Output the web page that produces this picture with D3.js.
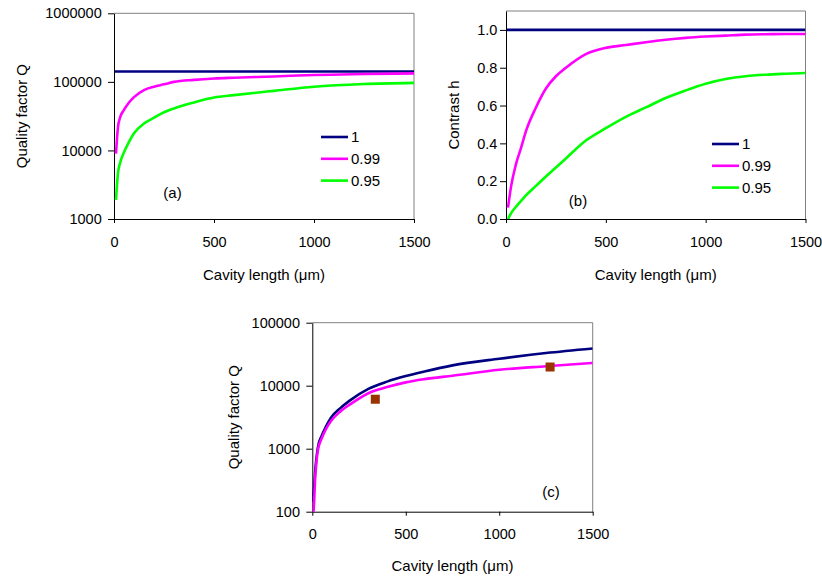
<!DOCTYPE html>
<html><head><meta charset="utf-8">
<script src="https://cdn.jsdelivr.net/npm/d3@7"></script>
<style>
body{margin:0;background:#fff;}
svg text{font-family:"Liberation Sans",Arial,sans-serif;fill:#000;}
</style></head>
<body><svg id="chart" width="822" height="579"></svg>
<script>
// ---------- data ----------
const seriesNames = ["1", "0.99", "0.95"];
const xTicks = [0, 500, 1000, 1500];
const qTicksA = [1000, 10000, 100000, 1000000];
const hTicksB = [0, 0.2, 0.4, 0.6, 0.8, 1.0];
const qTicksC = [100, 1000, 10000, 100000];

// (a) quality factor vs cavity length
const lenA1 = [5, 1500];
const qA1 = [142000, 142000];
const lenA = [10, 20, 30, 50, 75, 100, 150, 200, 250, 300, 400, 500, 600, 800, 1000, 1250, 1500];
const qA099 = [9000, 22000, 30000, 39000, 50000, 60000, 76000, 85000, 92000, 100000, 107000, 112000, 115000, 120000, 126000, 130000, 133000];
const qA095 = [1900, 4700, 6500, 9400, 13300, 17800, 24700, 30000, 36000, 41000, 50000, 59000, 64000, 74000, 85000, 93000, 96700];

// (b) contrast vs cavity length
const lenB1 = [5, 1500];
const hB1 = [1.0, 1.0];
const lenB = [10, 25, 50, 75, 100, 150, 200, 250, 300, 400, 500, 600, 700, 800, 900, 1000, 1100, 1200, 1300, 1400, 1500];
const hB099 = [0.06, 0.17, 0.29, 0.375, 0.465, 0.59, 0.69, 0.755, 0.80, 0.872, 0.905, 0.92, 0.935, 0.948, 0.958, 0.965, 0.97, 0.975, 0.977, 0.978, 0.978];
const hB095 = [0.0, 0.03, 0.065, 0.095, 0.125, 0.175, 0.225, 0.272, 0.32, 0.415, 0.48, 0.54, 0.59, 0.64, 0.68, 0.715, 0.74, 0.755, 0.763, 0.768, 0.772];

// (c) quality factor vs cavity length with measured points
const lenC = [3, 5, 10, 15, 20, 30, 50, 75, 100, 150, 200, 300, 400, 500, 600, 750, 1000, 1250, 1500];
const qCblue = [145, 180, 250, 420, 620, 1050, 1600, 2300, 3100, 4400, 5800, 8900, 11600, 14200, 16800, 21000, 26800, 33000, 39000];
const qCmag = [60, 80, 150, 330, 520, 950, 1450, 2100, 2750, 3900, 5000, 7600, 9500, 11300, 12700, 14400, 17900, 20400, 23000];
const measLen = [337, 1272];
const measQ = [6100, 19800];

// ---------- styles ----------
const C_BLUE = "#000080", C_MAG = "#ff00ff", C_GREEN = "#00ff00", C_MARK = "#993300";
const svg = d3.select("#chart");

function panel(opt) {
  const g = svg.append("g");
  const x = d3.scaleLinear().domain([0, 1500]).range([opt.left, opt.right]);
  const y = (opt.log ? d3.scaleLog() : d3.scaleLinear()).domain(opt.yDomain).range([opt.bottom, opt.top]);
  const clipId = "clip" + opt.id;
  svg.append("clipPath").attr("id", clipId).append("rect")
    .attr("x", opt.left).attr("y", opt.top).attr("width", opt.right - opt.left).attr("height", opt.bottom - opt.top);
  // plot border (gray) top & right
  g.append("path").attr("d", `M${opt.left},${opt.top}H${opt.right}V${opt.bottom}`)
    .attr("fill", "none").attr("stroke", "#808080").attr("stroke-width", 1);
  // axes
  const xa = g.append("g").attr("transform", `translate(0,${opt.bottom})`)
    .call(d3.axisBottom(x).tickValues(xTicks).tickFormat(d3.format("d")).tickSize(4).tickSizeOuter(0).tickPadding(13.5));
  const ya = g.append("g").attr("transform", `translate(${opt.left},0)`)
    .call(d3.axisLeft(y).tickValues(opt.yTicks).tickFormat(opt.yFormat).tickSize(6).tickSizeOuter(0).tickPadding(opt.yPad));
  [xa, ya].forEach(a => {
    a.select(".domain").attr("stroke", "#000");
    a.selectAll(".tick line").attr("stroke", "#000");
    a.selectAll("text").attr("font-size", 14.5).attr("font-family", "Liberation Sans, Arial, sans-serif");
  });
  const line = d3.line().curve(d3.curveMonotoneX).x(d => x(d[0])).y(d => y(d[1]));
  const pg = g.append("g").attr("clip-path", `url(#${clipId})`);
  opt.series.forEach(s => {
    pg.append("path").datum(s.xs.map((v, i) => [v, s.ys[i]]))
      .attr("d", line).attr("fill", "none").attr("stroke", s.color)
      .attr("stroke-width", 2.6).attr("stroke-linejoin", "round");
  });
  if (opt.points) {
    pg.selectAll("rect.m").data(opt.points.xs.map((v, i) => [v, opt.points.ys[i]])).enter()
      .append("rect").attr("x", d => x(d[0]) - 4.5).attr("y", d => y(d[1]) - 4.5)
      .attr("width", 9).attr("height", 9).attr("fill", C_MARK);
  }
  // titles
  g.append("text").attr("x", (opt.left + opt.right) / 2).attr("y", opt.xTitleY)
    .attr("text-anchor", "middle").attr("font-size", 15).text("Cavity length (\u03bcm)");
  g.append("text").attr("transform", `translate(${opt.yTitleX},${(opt.top + opt.bottom) / 2}) rotate(-90)`)
    .attr("text-anchor", "middle").attr("font-size", 15).text(opt.yTitle);
  g.append("text").attr("x", opt.labelX).attr("y", opt.labelY).attr("text-anchor", "middle")
    .attr("font-size", 15).text(opt.label);
  if (opt.legend) {
    const L = opt.legend;
    opt.series.forEach((s, i) => {
      const yy = L.y + i * L.dy;
      g.append("line").attr("x1", L.x).attr("x2", L.x + 27).attr("y1", yy).attr("y2", yy)
        .attr("stroke", s.color).attr("stroke-width", 2.6);
      g.append("text").attr("x", L.x + 30).attr("y", yy).attr("dy", "0.36em")
        .attr("font-size", 15).text(s.name);
    });
  }
}

panel({
  id: "a", left: 114, right: 414, top: 13.3, bottom: 219, log: true,
  yDomain: [1000, 1000000], yTicks: qTicksA, yFormat: d3.format("d"), yPad: 6.3,
  yTitle: "Quality factor Q", yTitleX: 27, xTitleY: 280,
  label: "(a)", labelX: 172.5, labelY: 198,
  legend: {x: 321, y: 137, dy: 21.8},
  series: [
    {name: seriesNames[0], xs: lenA1, ys: qA1, color: C_BLUE},
    {name: seriesNames[1], xs: lenA, ys: qA099, color: C_MAG},
    {name: seriesNames[2], xs: lenA, ys: qA095, color: C_GREEN}
  ]
});

panel({
  id: "b", left: 506, right: 805.5, top: 11, bottom: 219, log: false,
  yDomain: [0, 1.1], yTicks: hTicksB, yFormat: d3.format(".1f"), yPad: 2.7,
  yTitle: "Contrast h", yTitleX: 459, xTitleY: 280,
  label: "(b)", labelX: 578, labelY: 206,
  legend: {x: 712, y: 144, dy: 21.8},
  series: [
    {name: seriesNames[0], xs: lenB1, ys: hB1, color: C_BLUE},
    {name: seriesNames[1], xs: lenB, ys: hB099, color: C_MAG},
    {name: seriesNames[2], xs: lenB, ys: hB095, color: C_GREEN}
  ]
});

panel({
  id: "c", left: 312.3, right: 592.7, top: 322.7, bottom: 511.7, log: true,
  yDomain: [100, 100000], yTicks: qTicksC, yFormat: d3.format("d"), yPad: 6.3,
  yTitle: "Quality factor Q", yTitleX: 239, xTitleY: 571,
  label: "(c)", labelX: 551, labelY: 497,
  series: [
    {name: "", xs: lenC, ys: qCblue, color: C_BLUE},
    {name: "", xs: lenC, ys: qCmag, color: C_MAG}
  ],
  points: {xs: measLen, ys: measQ}
});
</script></body></html>
